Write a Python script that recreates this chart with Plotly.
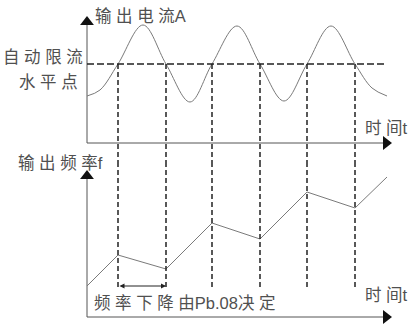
import plotly.graph_objects as go

# --- data (time in arbitrary units, 0 = axis origin) ---
# output current (top panel)
cur_t = [0, 1.3, 3.1, 5.6, 7.9, 10.3, 12.5, 15.0, 17.3, 19.7, 22.0, 24.4, 26.8, 28.5, 30.0]
cur_v = [4.7, 5.3, 7.9, 11.8, 7.9, 4.1, 7.9, 11.7, 7.9, 4.2, 7.9, 11.7, 7.9, 5.5, 4.7]
limit_level = 7.9

# output frequency (bottom panel)
freq_t = [0, 3.1, 7.9, 12.5, 17.3, 22.0, 26.8, 30.0]
freq_v = [3.1, 6.2, 4.8, 9.4, 7.8, 12.5, 10.9, 14.0]

# moments where the current crosses the limit level
cross_t = [3.1, 7.9, 12.5, 17.3, 22.0, 26.8]

AXC = "#555555"
CURVE = "#7a7a7a"
DASH = "#222222"
TXT = "#505050"
FONT = "Liberation Sans, Noto Sans CJK SC"

fig = go.Figure()

# axes drawn as lines with triangle heads
fig.add_trace(go.Scatter(x=[0, 0], y=[0, 12.3], yaxis="y", mode="lines",
                         line=dict(color=AXC, width=1), hoverinfo="skip"))
fig.add_trace(go.Scatter(x=[0, 29.6], y=[0, 0], yaxis="y", mode="lines",
                         line=dict(color=AXC, width=1), hoverinfo="skip"))
fig.add_trace(go.Scatter(x=[0, 0], y=[0, 14.3], yaxis="y2", mode="lines",
                         line=dict(color=AXC, width=1), hoverinfo="skip"))
fig.add_trace(go.Scatter(x=[0, 29.6], y=[0, 0], yaxis="y2", mode="lines",
                         line=dict(color=AXC, width=1), hoverinfo="skip"))
fig.add_trace(go.Scatter(x=[0], y=[12.1], yaxis="y", mode="markers",
                         marker=dict(symbol="triangle-up", size=12, color="#111"), cliponaxis=False))
fig.add_trace(go.Scatter(x=[29.9], y=[0], yaxis="y", mode="markers",
                         marker=dict(symbol="triangle-right", size=12, color="#111"), cliponaxis=False))
fig.add_trace(go.Scatter(x=[0], y=[14.1], yaxis="y2", mode="markers",
                         marker=dict(symbol="triangle-up", size=12, color="#111"), cliponaxis=False))
fig.add_trace(go.Scatter(x=[29.9], y=[0], yaxis="y2", mode="markers",
                         marker=dict(symbol="triangle-right", size=12, color="#111"), cliponaxis=False))

# current curve + limit level
fig.add_trace(go.Scatter(x=cur_t, y=cur_v, yaxis="y", mode="lines",
                         line=dict(color=CURVE, width=1, shape="spline", smoothing=1.0)))
fig.add_trace(go.Scatter(x=[0, 30.0], y=[limit_level, limit_level], yaxis="y", mode="lines",
                         line=dict(color=DASH, width=1.6, dash="7px,3px")))

# frequency polyline
fig.add_trace(go.Scatter(x=freq_t, y=freq_v, yaxis="y2", mode="lines",
                         line=dict(color=CURVE, width=1)))

# vertical dashed guides through both panels
for t in cross_t:
    fig.add_trace(go.Scatter(x=[t, t], y=[limit_level, -1.9], yaxis="y", mode="lines",
                             line=dict(color=DASH, width=1.5, dash="5px,3px")))
    fig.add_trace(go.Scatter(x=[t, t], y=[15.5, 3.0], yaxis="y2", mode="lines",
                             line=dict(color=DASH, width=1.5, dash="5px,3px")))

# double arrow for the deceleration span
fig.add_annotation(x=cross_t[1], y=3.1, xref="x", yref="y2",
                   ax=cross_t[0], ay=3.1, axref="x", ayref="y2",
                   text="", showarrow=True, arrowhead=2, startarrowhead=2,
                   arrowside="end+start", arrowsize=1, startarrowsize=1,
                   arrowwidth=1, arrowcolor="#222")

labels = [
    ("输 出 电 流A", 0.6, 12.7, "y", "left"),
    ("自 动 限 流", -0.2, 8.6, "y", "right"),
    ("水 平 点", -3.85, 6.1, "y", "center"),
    ("时 间t", 27.6, 1.5, "y", "left"),
    ("输 出 频 率f", -7.1, 15.4, "y2", "left"),
    ("时 间t", 27.6, 2.2, "y2", "left"),
    ("频 率 下 降 由Pb.08决 定", 0.5, 1.4, "y2", "left"),
]
for txt, x, y, yr, xa in labels:
    fig.add_annotation(x=x, y=y, xref="x", yref=yr, text=txt, showarrow=False,
                       xanchor=xa, yanchor="middle",
                       font=dict(family=FONT, size=16.5, color=TXT))

fig.update_layout(
    width=411, height=324,
    margin=dict(l=0, r=0, t=0, b=0),
    paper_bgcolor="white", plot_bgcolor="white",
    showlegend=False,
    xaxis=dict(range=[-8.7, 32.4], visible=False),
    yaxis=dict(domain=[0.5, 1], range=[-1.9, 14.3], visible=False),
    yaxis2=dict(domain=[0, 0.5], range=[-0.7, 15.5], visible=False, anchor="x"),
)

# browser default body margin would shift the drawing by 8px
fig.write_html("out.html", config={"displayModeBar": False},
               post_script="document.body.style.margin='0';")
